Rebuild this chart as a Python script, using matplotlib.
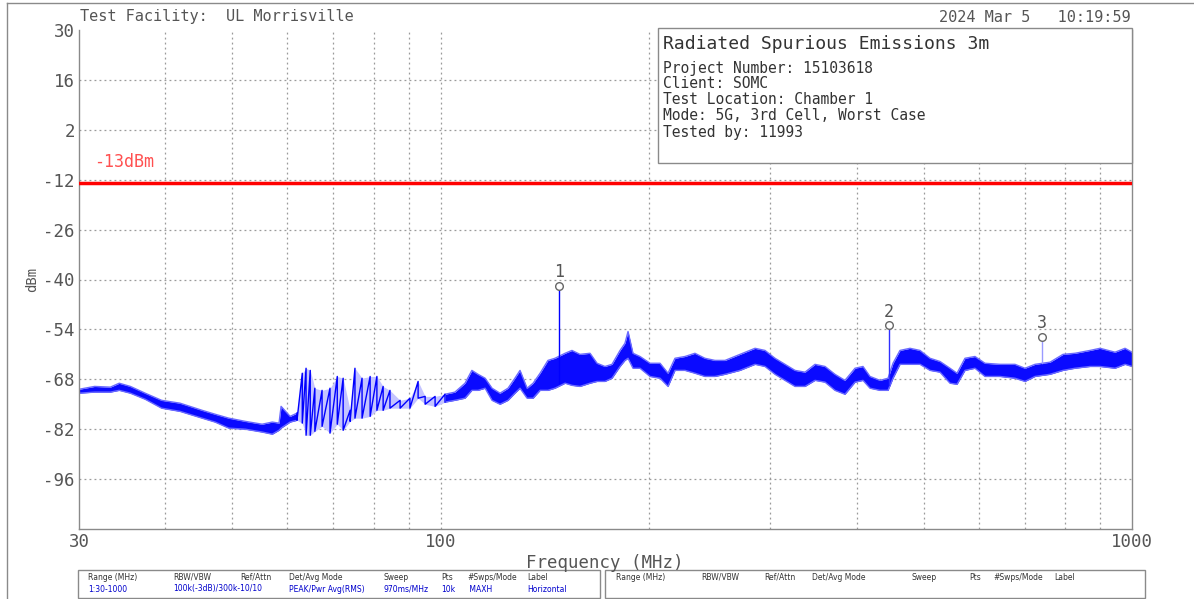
import numpy as np
import matplotlib
matplotlib.use('Agg')
import matplotlib.pyplot as plt
from matplotlib.patches import Rectangle
from matplotlib.lines import Line2D

# trace envelope (MHz, dBm top / dBm bottom)
freq = [30.0, 31.6, 33.3, 34.3, 35.6, 37.4, 39.5, 42.0, 45.2, 47.2,
        49.4, 52.2, 55.2, 57.1, 58.4, 58.8, 60.6, 62.0, 63.1, 63.9,
        64.8, 65.8, 67.4, 69.2, 70.9, 72.3, 74.0, 75.2, 77.0, 79.1,
        80.9, 82.6, 84.5, 87.4, 90.3, 92.8, 95.0, 98.2, 101.5, 104.9,
        108.5, 111.0, 113.3, 116.0, 118.7, 121.9, 125.2, 128.1, 130.3, 133.4,
        136.1, 139.3, 143.0, 146.4, 151.4, 154.9, 159.1, 164.5, 168.4, 172.9,
        177.0, 181.8, 184.8, 186.7, 189.8, 194.3, 200.9, 207.7, 213.3, 218.3,
        225.7, 233.3, 241.2, 249.4, 257.9, 271.1, 285.0, 294.6, 304.6, 314.9,
        325.6, 336.6, 348.0, 359.8, 371.9, 384.5, 397.6, 408.3, 417.9, 432.1,
        443.8, 451.2, 461.8, 477.5, 493.6, 510.4, 527.6, 545.5, 558.4, 573.4,
        592.8, 612.9, 644.3, 677.3, 700.3, 724.0, 761.1, 794.8, 827.2, 869.6,
        899.0, 945.1, 977.1, 1000.0]
hi = [-70.8, -70.0, -70.2, -69.1, -70.0, -71.9, -73.9, -74.7, -76.7, -77.8,
      -78.9, -79.8, -80.6, -80.0, -80.3, -75.6, -78.4, -77.5, -66.3, -64.9,
      -65.5, -70.5, -71.1, -70.5, -67.2, -67.7, -76.7, -64.9, -67.7, -67.2,
      -67.2, -70.0, -71.1, -73.9, -73.3, -68.6, -72.8, -72.8, -72.2, -71.6,
      -69.1, -65.5, -66.6, -67.7, -70.5, -71.9, -70.5, -67.7, -65.5, -70.5,
      -69.1, -66.3, -62.7, -62.1, -60.7, -59.9, -61.0, -60.7, -63.5, -64.4,
      -63.8, -59.9, -57.9, -54.6, -60.7, -61.6, -63.5, -63.5, -66.3, -62.1,
      -61.6, -60.7, -62.1, -62.7, -62.7, -61.0, -59.3, -59.9, -62.1, -63.8,
      -65.5, -66.0, -63.8, -64.4, -66.6, -68.3, -64.9, -64.4, -67.2, -68.3,
      -67.7, -63.5, -59.9, -59.3, -59.9, -62.1, -63.0, -64.9, -66.3, -62.1,
      -61.6, -63.5, -63.8, -63.8, -64.9, -63.8, -63.2, -61.0, -60.7, -59.9,
      -59.3, -60.4, -59.3, -60.4]
lo = [-71.9, -71.6, -71.6, -71.1, -71.9, -73.6, -76.1, -77.0, -78.9, -80.0,
      -81.7, -82.0, -82.8, -83.4, -82.3, -81.7, -80.0, -79.5, -80.3, -83.7,
      -83.7, -82.6, -81.2, -83.1, -80.6, -82.3, -79.8, -78.9, -78.9, -78.4,
      -76.7, -76.7, -76.1, -76.1, -76.1, -73.3, -75.0, -75.6, -74.4, -73.9,
      -73.3, -71.1, -71.1, -70.5, -73.9, -75.0, -73.9, -71.9, -70.5, -73.3,
      -73.3, -71.1, -71.1, -70.5, -69.1, -69.7, -70.0, -69.1, -68.6, -68.6,
      -67.7, -64.4, -62.7, -62.1, -64.9, -64.9, -67.2, -67.7, -70.0, -65.5,
      -65.5, -66.3, -67.2, -67.2, -66.6, -65.5, -63.8, -64.4, -66.6, -68.3,
      -70.0, -70.0, -68.3, -68.8, -71.1, -72.2, -68.8, -68.3, -70.5, -71.1,
      -71.1, -67.7, -63.8, -63.8, -63.8, -65.5, -66.0, -69.1, -69.4, -65.5,
      -64.9, -67.2, -67.2, -67.7, -68.6, -67.2, -66.6, -65.5, -64.9, -64.4,
      -64.4, -64.9, -63.8, -64.4]

# markers
mk_freq = [148.4, 445.3, 741.0]
mk_level = [-41.7, -52.9, -56.0]
mk_base = [-69.1, -69.7, -63.5]
mk_name = ['1', '2', '3']
mk_color = ['#0000ff', '#3030ff', '#9a9aff']

limit = -13
y_ticks = [30, 16, 2, -12, -26, -40, -54, -68, -82, -96]
x_ticks = [30, 100, 1000]
x_grid = [40, 50, 60, 70, 80, 90, 100, 200, 300, 400, 500, 600, 700, 800, 900]

info_title = 'Radiated Spurious Emissions 3m'
info_lines = ['Project Number: 15103618', 'Client: SOMC', 'Test Location: Chamber 1',
              'Mode: 5G, 3rd Cell, Worst Case', 'Tested by: 11993']

tbl_head = ['Range (MHz)', 'RBW/VBW', 'Ref/Attn', 'Det/Avg Mode', 'Sweep', 'Pts', '#Swps/Mode', 'Label']
tbl_vals = ['1:30-1000', '100k(-3dB)/300k-10/10', '', 'PEAK/Pwr Avg(RMS)', '970ms/MHz', '10k', ' MAXH', 'Horizontal']

W, H = 1194, 599
mono = 'DejaVu Sans Mono'
gray = '#555555'


def px(x, y):
    return x / W, 1 - y / H


fig = plt.figure(figsize=(W / 100, H / 100), dpi=100)
ax = fig.add_axes([79 / W, 1 - 529 / H, (1132 - 79) / W, (529 - 30) / H])

ax.set_xscale('log')
ax.set_xlim(30, 1000)
ax.set_ylim(-110, 30)

# grid
for y in y_ticks[1:]:
    ax.axhline(y, color='#9a9a9a', ls=(0, (1.5, 2.5)), lw=0.9, zorder=1)
for x in x_grid:
    ax.axvline(x, color='#9a9a9a', ls=(0, (1.5, 2.5)), lw=0.9, zorder=1)

# trace: solid band where the sweep is dense, zigzag where it swings hard
f = np.array(freq)
top = np.array(hi)
bot = np.array(lo)
a, b = 17, 38   # 62 MHz .. 98 MHz
for sl in [slice(0, a + 1), slice(b, None)]:
    ax.fill_between(f[sl], top[sl], bot[sl], color='#0a0aff', lw=0, zorder=2)
    ax.plot(f[sl], top[sl], color='#6a6aff', lw=1, zorder=2)
    ax.plot(f[sl], bot[sl], color='#6a6aff', lw=1, zorder=2)
sl = slice(a, b + 1)
ax.fill_between(f[sl], top[sl], bot[sl], color='#c4c4ff', lw=0, zorder=2)
ax.plot(np.repeat(f[sl], 2), np.column_stack([top[sl], bot[sl]]).ravel(),
        color='#0000ff', lw=1, zorder=3)

# limit line
ax.axhline(limit, color='#ff0000', lw=2.5, zorder=4)
ax.text(31.6, -7.0, '-13dBm', color='#ff5050', fontsize=12, family=mono, va='center', ha='left')

# markers
for fm, lv, base, name, c in zip(mk_freq, mk_level, mk_base, mk_name, mk_color):
    ax.plot([fm, fm], [base, lv], color=c, lw=1, zorder=5)
    ax.plot(fm, lv, 'o', ms=5.5, mfc='white', mec='#666666', mew=1, zorder=6)
    ax.annotate(name, (fm, lv), xytext=(0, 10), textcoords='offset points',
                ha='center', va='center', fontsize=12, family=mono, color=gray)

# axes look
ax.set_yticks(y_ticks)
ax.set_yticklabels([str(v) for v in y_ticks], family=mono, fontsize=12.5, color=gray)
ax.set_xticks(x_ticks)
ax.set_xticklabels([str(v) for v in x_ticks], family=mono, fontsize=12.5, color=gray)
ax.xaxis.set_minor_locator(matplotlib.ticker.NullLocator())
ax.tick_params(length=0, pad=3)
for s in ['left', 'bottom', 'right']:
    ax.spines[s].set_color('#8a8a8a')
    ax.spines[s].set_linewidth(1)
ax.spines['top'].set_visible(False)
ax.set_ylabel('dBm', family=mono, fontsize=10, color=gray, labelpad=3)
fig.text(*px(605, 563), 'Frequency (MHz)', family=mono, fontsize=12.5, color=gray, va='center', ha='center')

# header texts
fig.text(*px(80, 17), 'Test Facility:  UL Morrisville', family=mono, fontsize=11, color=gray, va='center')
fig.text(*px(1131, 17), '2024 Mar 5   10:19:59', family=mono, fontsize=11, color=gray, va='center', ha='right')

# outer frame (top and left)
fig.add_artist(Line2D([7 / W, 1], [1 - 3 / H, 1 - 3 / H], transform=fig.transFigure, color='#8a8a8a', lw=1))
fig.add_artist(Line2D([7 / W, 7 / W], [0, 1 - 3 / H], transform=fig.transFigure, color='#8a8a8a', lw=1))

# info box
x0, y0 = px(658, 163)
fig.add_artist(Rectangle((x0, y0), (1132 - 658) / W, (163 - 28) / H, transform=fig.transFigure,
                         facecolor='white', edgecolor='#8a8a8a', lw=1, zorder=10))
fig.text(*px(663, 44), info_title, family=mono, fontsize=13, color='#333333', va='center', zorder=11)
for i, line in enumerate(info_lines):
    fig.text(*px(663, 68 + 16 * i), line, family=mono, fontsize=10.5, color='#333333', va='center', zorder=11)

# settings table
for bx0, bx1 in [(78, 600), (605, 1145)]:
    a0, b0 = px(bx0, 598)
    fig.add_artist(Rectangle((a0, b0), (bx1 - bx0) / W, (598 - 570) / H, transform=fig.transFigure,
                             facecolor='white', edgecolor='#8a8a8a', lw=1))
col_left = [88, 173, 240, 289, 384, 441, 467, 527]
col_right = [616, 701, 764, 812, 912, 969, 993, 1054]
for x, t, v in zip(col_left, tbl_head, tbl_vals):
    fig.text(*px(x, 577), t, fontsize=5.5, color='#333333', va='center')
    fig.text(*px(x, 589), v, fontsize=5.5, color='#0000cc', va='center')
for x, t in zip(col_right, tbl_head):
    fig.text(*px(x, 577), t, fontsize=5.5, color='#333333', va='center')

plt.savefig('out.png', dpi=100)
